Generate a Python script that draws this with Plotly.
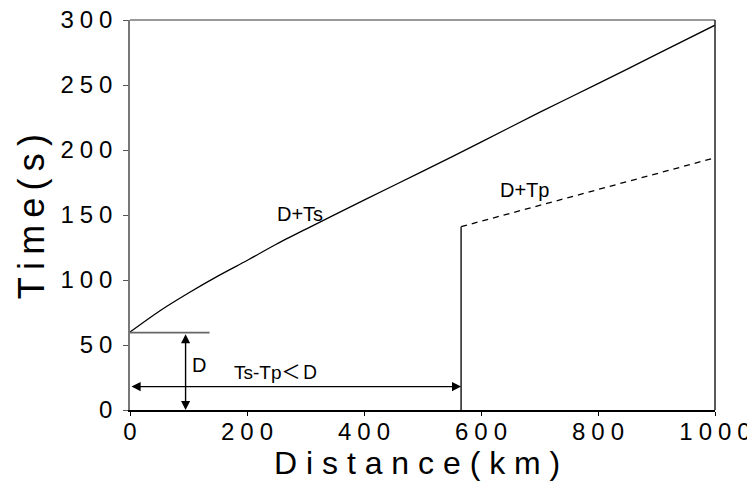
import plotly.graph_objects as go

# ---- data ----
ts_dist = [0, 50, 100, 150, 200, 250, 300, 400, 500, 600, 700, 800, 900, 1000]
ts_time = [60, 76, 90, 103, 115, 127.5, 139, 161.5, 183.5, 206, 229, 251, 273.5, 296]

tp_dist = [566, 1000]
tp_time = [141, 194]

cut_dist = [566, 566]
cut_time = [0, 141]

d_line_dist = [0, 136]
d_line_time = [59.5, 59.5]

x_ticks = [0, 200, 400, 600, 800, 1000]
y_ticks = [0, 50, 100, 150, 200, 250, 300]

x_title = "Distance(km)"
y_title = "Time(s)"

SP = "\u2005"
x_ticktext = [SP.join(str(v)) for v in x_ticks]
y_ticktext = [SP.join(str(v)) for v in y_ticks]

FONT = "Liberation Sans, Arial, sans-serif"

fig = go.Figure()
fig.add_trace(go.Scatter(x=ts_dist, y=ts_time, mode="lines", line_shape="spline",
                         line=dict(color="black", width=1.3, smoothing=0.6), showlegend=False))
fig.add_trace(go.Scatter(x=tp_dist, y=tp_time, mode="lines",
                         line=dict(color="black", width=1.3, dash="6px,5px"), showlegend=False))
fig.add_trace(go.Scatter(x=cut_dist, y=cut_time, mode="lines",
                         line=dict(color="#444", width=1.8), showlegend=False))
fig.add_trace(go.Scatter(x=d_line_dist, y=d_line_time, mode="lines",
                         line=dict(color="#666", width=1.6), showlegend=False))

# arrows
fig.add_annotation(x=95, y=0, ax=95, ay=59.5, xref="x", yref="y", axref="x", ayref="y",
                   text="", showarrow=True, arrowhead=2, arrowside="end+start",
                   arrowwidth=1.4, arrowsize=1.3, arrowcolor="black", standoff=0, startstandoff=0)
fig.add_annotation(x=566, y=18, ax=0, ay=18, xref="x", yref="y", axref="x", ayref="y",
                   text="", showarrow=True, arrowhead=2, arrowside="end+start",
                   arrowwidth=1.4, arrowsize=1.3, arrowcolor="black", standoff=0, startstandoff=0)

# labels
fig.add_annotation(x=118, y=35, text="D", showarrow=False,
                   font=dict(family=FONT, size=20, color="black"))
fig.add_annotation(x=252, y=28.5, text="Ts-Tp\uff1c\uff24", showarrow=False,
                   font=dict(family="Liberation Sans, Noto Sans CJK JP", size=19, color="black"))
fig.add_annotation(x=291, y=151, text="D+Ts", showarrow=False,
                   font=dict(family=FONT, size=20, color="black"))
fig.add_annotation(x=675, y=169, text="D+Tp", showarrow=False,
                   font=dict(family=FONT, size=20, color="black"))

# axis titles as annotations (letter-spaced)
fig.add_annotation(xref="paper", yref="paper", x=0.49, y=-0.135, xanchor="center", yanchor="middle",
                   text=" ".join(x_title), showarrow=False,
                   font=dict(family=FONT, size=32, color="black"))
fig.add_annotation(xref="paper", yref="paper", x=-0.167, y=0.495, xanchor="center", yanchor="middle",
                   text="\u2009".join(y_title), showarrow=False, textangle=-90,
                   font=dict(family=FONT, size=36, color="black"))

# frame: top (gray) and right (dark) borders
fig.add_shape(type="line", xref="paper", yref="paper", x0=0, x1=1, y0=1, y1=1,
              line=dict(color="#777", width=1.5))
fig.add_shape(type="line", xref="paper", yref="paper", x0=1, x1=1, y0=0, y1=1,
              line=dict(color="#222", width=1.5))

fig.update_layout(
    width=747, height=476,
    margin=dict(l=122, r=40, t=12, b=74),
    paper_bgcolor="white", plot_bgcolor="white",
    font=dict(family=FONT, color="black"),
    xaxis=dict(range=[0, 1000], tickvals=x_ticks, ticktext=x_ticktext, automargin=False,
               tickfont=dict(size=24), ticks="outside", ticklen=4, tickcolor="black",
               ticklabelstandoff=-5, ticklabeloverflow="allow",
               showline=True, linecolor="black", linewidth=1.5, mirror=False,
               showgrid=False, zeroline=False),
    yaxis=dict(range=[0, 300], tickvals=y_ticks, ticktext=y_ticktext, automargin=False,
               tickfont=dict(size=24), ticks="outside", ticklen=5, tickcolor="#555",
               ticklabelstandoff=6, ticklabeloverflow="allow",
               showline=True, linecolor="#777", linewidth=1.5, mirror=False,
               showgrid=False, zeroline=False),
)

fig.write_html("out.html")
